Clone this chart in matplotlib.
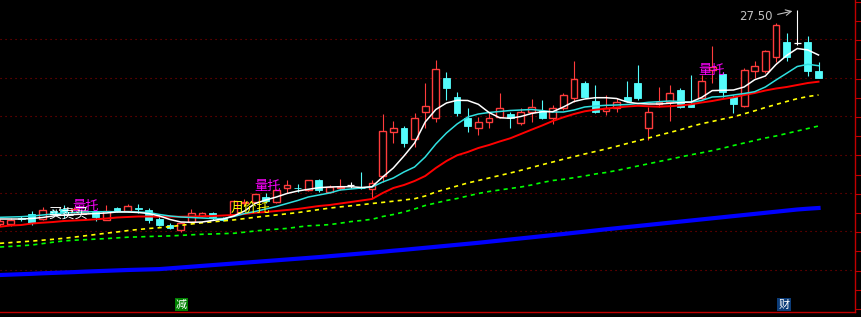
import matplotlib.pyplot as plt
import numpy as np

plt.rcParams['font.family'] = ['Noto Sans CJK SC', 'DejaVu Sans']

# daily K-line values
opens = [25.36, 25.36, 25.42, 25.46, 25.41, 25.49, 25.51, 25.48, 25.47, 25.48,
         25.405, 25.52, 25.49, 25.52, 25.50, 25.41, 25.35, 25.30, 25.38, 25.44,
         25.47, 25.425, 25.45, 25.575, 25.58, 25.63, 25.58, 25.72, 25.725, 25.70,
         25.80, 25.68, 25.725, 25.75, 25.725, 25.71, 25.84, 26.28, 26.32, 26.21,
         26.48, 26.42, 26.82, 26.63, 26.42, 26.32, 26.38, 26.43, 26.46, 26.37,
         26.48, 26.49, 26.42, 26.52, 26.62, 26.77, 26.59, 26.49, 26.52, 26.63,
         26.77, 26.32, 26.56, 26.58, 26.70, 26.565, 26.62, 26.90, 26.86, 26.63,
         26.54, 26.89, 26.89, 27.03, 27.18, 27.17, 27.18, 26.89]
closes = [25.39, 25.40, 25.41, 25.37, 25.50, 25.465, 25.48, 25.51, 25.495, 25.43,
          25.495, 25.49, 25.54, 25.515, 25.40, 25.35, 25.32, 25.37, 25.47, 25.47,
          25.43, 25.405, 25.59, 25.58, 25.66, 25.59, 25.70, 25.75, 25.72, 25.80,
          25.70, 25.73, 25.73, 25.75, 25.72, 25.77, 26.29, 26.32, 26.17, 26.42,
          26.54, 26.91, 26.72, 26.47, 26.34, 26.38, 26.42, 26.52, 26.42, 26.48,
          26.53, 26.42, 26.52, 26.65, 26.81, 26.63, 26.48, 26.52, 26.58, 26.59,
          26.62, 26.48, 26.58, 26.67, 26.53, 26.535, 26.79, 26.93, 26.68, 26.56,
          26.90, 26.94, 27.09, 27.35, 27.03, 27.17, 26.89, 26.82]
highs = [25.41, 25.42, 25.44, 25.49, 25.53, 25.51, 25.55, 25.53, 25.515, 25.49,
         25.55, 25.535, 25.56, 25.56, 25.52, 25.45, 25.37, 25.385, 25.51, 25.48,
         25.48, 25.435, 25.60, 25.61, 25.665, 25.67, 25.71, 25.80, 25.76, 25.805,
         25.81, 25.75, 25.815, 25.78, 25.88, 25.80, 26.46, 26.39, 26.34, 26.47,
         26.77, 27.00, 26.88, 26.68, 26.52, 26.43, 26.47, 26.67, 26.48, 26.52,
         26.61, 26.60, 26.55, 26.67, 26.99, 26.79, 26.75, 26.65, 26.62, 26.79,
         26.95, 26.53, 26.73, 26.75, 26.72, 26.85, 26.85, 27.14, 26.88, 26.65,
         26.92, 26.99, 27.10, 27.37, 27.27, 27.50, 27.24, 26.98]
lows = [25.34, 25.34, 25.39, 25.35, 25.40, 25.45, 25.42, 25.47, 25.46, 25.39,
        25.40, 25.485, 25.485, 25.467, 25.37, 25.345, 25.31, 25.28, 25.375, 25.43,
        25.40, 25.395, 25.445, 25.54, 25.575, 25.57, 25.575, 25.67, 25.68, 25.69,
        25.68, 25.675, 25.705, 25.72, 25.715, 25.62, 25.78, 26.17, 26.13, 26.13,
        26.32, 26.38, 26.60, 26.44, 26.28, 26.25, 26.32, 26.42, 26.32, 26.35,
        26.38, 26.415, 26.36, 26.50, 26.58, 26.625, 26.475, 26.45, 26.48, 26.58,
        26.60, 26.20, 26.53, 26.39, 26.52, 26.53, 26.615, 26.77, 26.63, 26.47,
        26.53, 26.82, 26.87, 26.98, 26.99, 27.15, 26.84, 26.82]

# moving averages
ma5 = [25.41, 25.41, 25.41, 25.415, 25.425, 25.44, 25.45, 25.455, 25.46, 25.465,
       25.47, 25.48, 25.48, 25.475, 25.465, 25.44, 25.405, 25.38, 25.377, 25.38,
       25.395, 25.41, 25.44, 25.49, 25.565, 25.60, 25.63, 25.665, 25.69, 25.707,
       25.723, 25.73, 25.733, 25.733, 25.725, 25.733, 25.83, 25.92, 26.04, 26.17,
       26.38, 26.505, 26.57, 26.597, 26.595, 26.557, 26.475, 26.423, 26.417, 26.435,
       26.465, 26.483, 26.483, 26.53, 26.585, 26.61, 26.623, 26.623, 26.615, 26.58,
       26.565, 26.56, 26.56, 26.567, 26.575, 26.58, 26.625, 26.694, 26.697, 26.70,
       26.73, 26.803, 26.84, 26.955, 27.045, 27.115, 27.10, 27.05]
ma10 = [25.427, 25.43, 25.433, 25.44, 25.45, 25.46, 25.47, 25.475, 25.48, 25.483,
        25.483, 25.483, 25.483, 25.48, 25.475, 25.455, 25.44, 25.43, 25.425, 25.42,
        25.415, 25.415, 25.435, 25.465, 25.485, 25.51, 25.535, 25.565, 25.595, 25.63,
        25.65, 25.67, 25.70, 25.71, 25.72, 25.73, 25.78, 25.82, 25.88, 25.93,
        26.03, 26.16, 26.27, 26.36, 26.43, 26.46, 26.475, 26.485, 26.495, 26.50,
        26.505, 26.495, 26.48, 26.48, 26.50, 26.53, 26.54, 26.547, 26.55, 26.555,
        26.565, 26.577, 26.583, 26.59, 26.585, 26.577, 26.595, 26.63, 26.635, 26.65,
        26.665, 26.683, 26.73, 26.80, 26.867, 26.935, 26.957, 26.943]
ma20 = [25.333, 25.345, 25.35, 25.365, 25.373, 25.38, 25.39, 25.395, 25.40, 25.407,
        25.415, 25.425, 25.43, 25.435, 25.435, 25.433, 25.433, 25.433, 25.435, 25.437,
        25.44, 25.445, 25.45, 25.46, 25.473, 25.48, 25.49, 25.50, 25.51, 25.525,
        25.54, 25.55, 25.565, 25.58, 25.595, 25.61, 25.67, 25.72, 25.75, 25.79,
        25.84, 25.92, 25.99, 26.047, 26.08, 26.12, 26.15, 26.185, 26.217, 26.26,
        26.303, 26.345, 26.39, 26.427, 26.46, 26.487, 26.503, 26.513, 26.525, 26.535,
        26.542, 26.537, 26.533, 26.538, 26.545, 26.557, 26.575, 26.59, 26.61, 26.627,
        26.65, 26.67, 26.695, 26.715, 26.73, 26.75, 26.77, 26.783]
ma30 = [25.167, 25.174, 25.182, 25.189, 25.198, 25.207, 25.217, 25.229, 25.242, 25.255,
        25.268, 25.28, 25.294, 25.305, 25.315, 25.323, 25.334, 25.346, 25.36, 25.372,
        25.382, 25.391, 25.401, 25.414, 25.427, 25.439, 25.45, 25.462, 25.474, 25.489,
        25.504, 25.519, 25.531, 25.542, 25.553, 25.565, 25.576, 25.588, 25.60, 25.613,
        25.64, 25.68, 25.71, 25.74, 25.77, 25.795, 25.82, 25.845, 25.87, 25.897,
        25.925, 25.953, 25.98, 26.008, 26.034, 26.06, 26.085, 26.11, 26.137, 26.165,
        26.192, 26.22, 26.248, 26.275, 26.303, 26.335, 26.363, 26.385, 26.41, 26.432,
        26.462, 26.492, 26.525, 26.555, 26.585, 26.613, 26.635, 26.65]
ma60 = [25.13, 25.136, 25.143, 25.15, 25.164, 25.178, 25.191, 25.198, 25.203, 25.209,
        25.214, 25.221, 25.228, 25.231, 25.235, 25.238, 25.241, 25.246, 25.252, 25.257,
        25.26, 25.264, 25.267, 25.278, 25.29, 25.301, 25.308, 25.316, 25.33, 25.342,
        25.347, 25.354, 25.368, 25.384, 25.395, 25.407, 25.435, 25.455, 25.48, 25.51,
        25.545, 25.57, 25.595, 25.615, 25.64, 25.665, 25.685, 25.70, 25.715, 25.73,
        25.75, 25.775, 25.795, 25.807, 25.823, 25.84, 25.86, 25.875, 25.895, 25.917,
        25.94, 25.962, 25.985, 26.007, 26.03, 26.052, 26.072, 26.094, 26.118, 26.145,
        26.17, 26.195, 26.22, 26.24, 26.265, 26.29, 26.315, 26.34]
ma250 = [24.85, 24.854, 24.858, 24.862, 24.867, 24.871, 24.875, 24.879, 24.884, 24.888,
         24.892, 24.896, 24.90, 24.903, 24.906, 24.909, 24.917, 24.925, 24.933, 24.941,
         24.949, 24.957, 24.965, 24.973, 24.981, 24.989, 24.997, 25.005, 25.013, 25.021,
         25.029, 25.038, 25.047, 25.056, 25.065, 25.074, 25.083, 25.093, 25.102, 25.112,
         25.122, 25.132, 25.142, 25.152, 25.162, 25.172, 25.183, 25.194, 25.205, 25.216,
         25.227, 25.238, 25.249, 25.26, 25.272, 25.283, 25.295, 25.307, 25.318, 25.329,
         25.34, 25.351, 25.362, 25.373, 25.384, 25.395, 25.406, 25.417, 25.428, 25.439,
         25.45, 25.461, 25.472, 25.483, 25.494, 25.505, 25.513, 25.52]

# signal words on the chart: (text, day, price, colour)
signals = [('量托', 8.1, 25.54, '#ff00ff'),
           ('量托', 25.2, 25.735, '#ff00ff'),
           ('量托', 66.9, 26.90, '#ff00ff'),
           ('月价托', 23.6, 25.515, '#ffff00'),
           ('买卖买', 6.4, 25.455, '#ffffff')]
# bottom event boxes: (text, day, box colour)
events = [('减', 17.07, '#008000'), ('财', 73.75, '#0c3c78')]

o = np.array(opens)
c = np.array(closes)
h = np.array(highs)
l = np.array(lows)
x = np.arange(len(o))
top = np.maximum(o, c)
bot = np.minimum(o, c)
up = c > o
dn = c < o
fl = c == o

red = '#ff3c3c'
cyan = '#54fcfc'
w = 0.64

fig = plt.figure(figsize=(8.62, 3.17), dpi=100, facecolor='black')
ax = fig.add_axes([0, 5 / 317, 855.5 / 862, 312 / 317])
ax.set_facecolor('black')

# grid
for g in [27.207, 26.823, 26.439, 26.055, 25.671, 25.287, 24.903]:
    ax.axhline(g, color='#900000', lw=0.8, linestyle=(0, (1, 3.5)), zorder=1)

# cyan (falling) candles
ax.vlines(x[dn], l[dn], h[dn], color=cyan, lw=0.8, zorder=2)
ax.bar(x[dn], (o - c)[dn], bottom=c[dn], width=w, color=cyan, edgecolor=cyan, lw=0.6, zorder=3)
# red (rising) hollow candles
ax.vlines(x[up], top[up], h[up], color=red, lw=0.8, zorder=2)
ax.vlines(x[up], l[up], bot[up], color=red, lw=0.8, zorder=2)
ax.bar(x[up], (c - o)[up], bottom=o[up], width=w, facecolor='black', edgecolor=red, lw=1.0, zorder=3)
# flat candles
ax.vlines(x[fl], l[fl], h[fl], color='white', lw=0.8, zorder=2)
ax.hlines(c[fl], x[fl] - w / 2, x[fl] + w / 2, color='white', lw=0.9, zorder=3)

# moving averages
ax.plot(x, ma250, color='#0000ff', lw=3.0, zorder=4)
ax.plot(x, ma60, color='#00ff00', lw=1.2, linestyle=(0, (2.5, 2.5)), zorder=4)
ax.plot(x, ma30, color='#ffff00', lw=1.2, linestyle=(0, (2.5, 2.5)), zorder=4)
ax.plot(x, ma20, color='#ff0000', lw=1.4, zorder=4)
ax.plot(x, ma10, color='#30e0e0', lw=1.1, zorder=4)
ax.plot(x, ma5, color='#ffffff', lw=1.1, zorder=4)

for txt, d, p, col in signals:
    ax.text(d, p, txt, color=col, fontsize=9.5, ha='center', va='center', zorder=6)

for txt, d, col in events:
    ax.text(d, 24.555, txt, color='white', fontsize=8, ha='center', va='center', zorder=6,
            bbox=dict(boxstyle='square,pad=0.12', facecolor=col, edgecolor='none'))

# highest price marker
hi = int(np.argmax(h))
ax.text(hi - 2.3, h[hi] - 0.065, '%.2f' % h[hi], color='#c0c0c0', fontsize=8.5,
        ha='right', va='center', family='DejaVu Sans', zorder=6)
ax.annotate('', xy=(hi - 0.2, h[hi] - 0.005), xytext=(hi - 2.1, h[hi] - 0.05),
            arrowprops=dict(arrowstyle='->', color='#c0c0c0', lw=0.8), zorder=6)

ax.set_xlim(0, 855.5 / 10.63)
ax.set_ylim(24.48, 27.60)

for s in ['top', 'left']:
    ax.spines[s].set_visible(False)
for s in ['right', 'bottom']:
    ax.spines[s].set_color('#c00000')
    ax.spines[s].set_linewidth(1.0)
ax.set_xticks([])
ax.yaxis.tick_right()
ax.set_yticks([27.583 - 0.192 * k for k in range(17)])
ax.tick_params(axis='y', colors='#c00000', length=4, width=0.8, labelright=False)

fig.savefig('out.png', dpi=100, facecolor='black')
